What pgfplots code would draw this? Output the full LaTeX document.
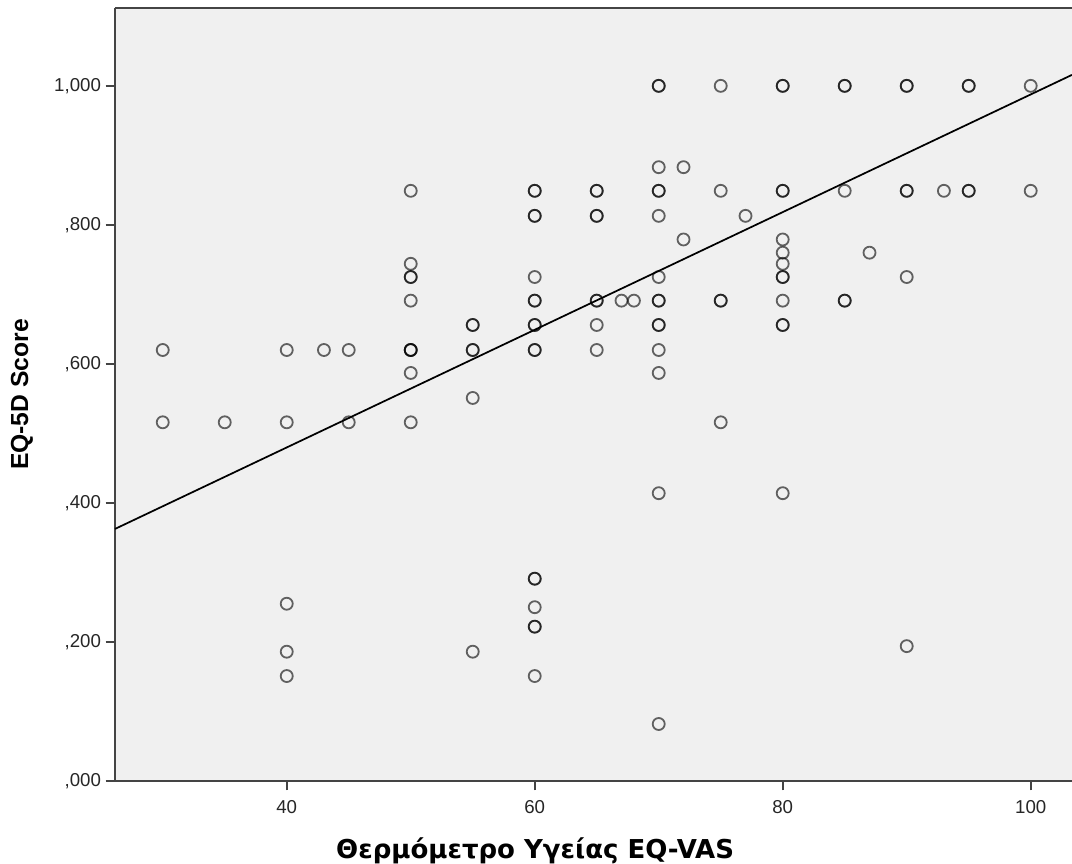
\documentclass[border=0pt]{standalone}
\usepackage{pgfplots}
\pgfplotsset{compat=1.18}
\usepackage{fontspec}
\setmainfont{Liberation Sans}
\newfontfamily\widebold[BoldFont={DejaVu Sans Bold}]{DejaVu Sans}

\definecolor{panelbg}{HTML}{F0F0F0}
\definecolor{spine}{HTML}{444444}

% EQ-VAS (x) against EQ-5D index (y); repeated rows are coincident observations
\pgfplotstableread{
x y
30 0.620
30 0.516
35 0.516
40 0.620
40 0.516
40 0.255
40 0.186
40 0.151
43 0.620
45 0.620
45 0.516
50 0.849
50 0.744
50 0.725
50 0.725
50 0.691
50 0.620
50 0.620
50 0.620
50 0.587
50 0.516
55 0.656
55 0.656
55 0.620
55 0.620
55 0.551
55 0.186
60 0.849
60 0.849
60 0.813
60 0.813
60 0.725
60 0.691
60 0.691
60 0.656
60 0.656
60 0.620
60 0.620
60 0.291
60 0.291
60 0.250
60 0.222
60 0.222
60 0.151
65 0.849
65 0.849
65 0.813
65 0.813
65 0.691
65 0.691
65 0.656
65 0.620
67 0.691
68 0.691
70 1.000
70 1.000
70 0.883
70 0.849
70 0.849
70 0.813
70 0.725
70 0.691
70 0.691
70 0.656
70 0.656
70 0.620
70 0.587
70 0.414
70 0.082
72 0.883
72 0.779
75 1.000
75 0.849
75 0.691
75 0.691
75 0.516
77 0.813
80 1.000
80 1.000
80 0.849
80 0.849
80 0.779
80 0.760
80 0.744
80 0.725
80 0.725
80 0.691
80 0.656
80 0.656
80 0.414
85 1.000
85 1.000
85 0.849
85 0.691
85 0.691
87 0.760
90 1.000
90 1.000
90 0.849
90 0.849
90 0.725
90 0.194
93 0.849
95 1.000
95 1.000
95 0.849
95 0.849
100 1.000
100 0.849
}\eqdata

% fitted line, end points at the panel edges
\pgfplotstableread{
x y
26.15 0.3626
103.33 1.0158
}\fitline

\begin{document}
\begin{tikzpicture}
\begin{axis}[
  at={(0,0)}, anchor=south west,
  scale only axis,
  width=717.75pt, height=579.75pt,
  xmin=26.15, xmax=103.33,
  ymin=0, ymax=1.112,
  axis x line*=box,
  axis y line*=left,
  axis line style={-, draw=spine, line width=1.3pt},
  axis background/.style={fill=panelbg},
  xtick={40,60,80,100},
  ytick={0,0.2,0.4,0.6,0.8,1.0},
  yticklabels={{,000},{,200},{,400},{,600},{,800},{1,000}},
  xtick pos=bottom, ytick pos=left,
  tick align=outside,
  major tick length=7pt,
  tick style={draw=spine, line width=1.3pt},
  /pgf/number format/assume math mode=true,
  ticklabel style={font=\fontsize{14}{16}\selectfont, text=black!85},
  xticklabel style={yshift=-4pt},
  xlabel={Θερμόμετρο Υγείας EQ-VAS},
  ylabel={EQ-5D Score},
  xlabel style={font=\widebold\bfseries\fontsize{19.5}{22}\selectfont,
    at={(rel axis cs:0.439,0)}, anchor=center, yshift=-52pt},
  ylabel style={font=\bfseries\fontsize{18.5}{21}\selectfont,
    at={(rel axis cs:0,0.5)}, anchor=center, yshift=69.75pt},
  clip=false,
]
\addplot[only marks, mark=o, mark size=4.5pt,
  mark options={draw=black, draw opacity=0.6, line width=1.35pt}]
  table[x=x, y=y] {\eqdata};
\addplot[black, line width=1.3pt] table[x=x, y=y] {\fitline};
\end{axis}
\pgfresetboundingbox
\useasboundingbox (-86.25pt,-62.25pt) rectangle (717.75pt,585.75pt);
\end{tikzpicture}
\end{document}
